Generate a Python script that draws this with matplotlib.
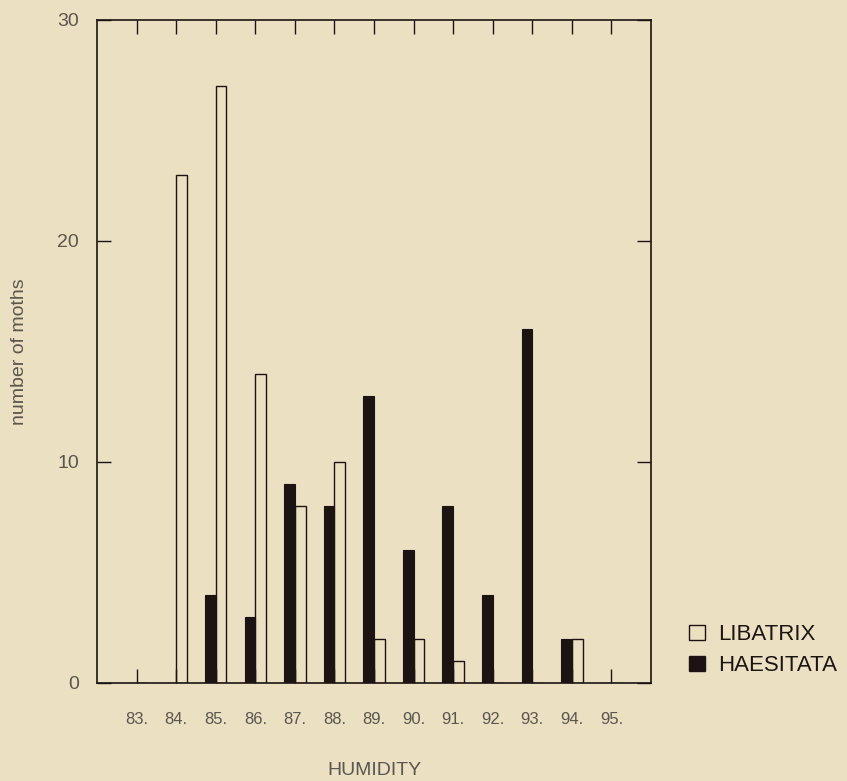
import numpy as np
import matplotlib.pyplot as plt
from matplotlib.patches import Patch

# humidity classes and moth counts
humidity = [83, 84, 85, 86, 87, 88, 89, 90, 91, 92, 93, 94, 95]
humidity_labels = ['83.', '84.', '85.', '86.', '87.', '88.', '89.',
                   '90.', '91.', '92.', '93.', '94.', '95.']
libatrix = [0, 23, 27, 14, 8, 10, 2, 2, 1, 0, 0, 2, 0]
haesitata = [0, 0, 4, 3, 9, 8, 13, 6, 8, 4, 16, 2, 0]

bg = '#ece0c2'
ink = '#1c1412'
grey = '#5a5650'

plt.rcParams['font.family'] = ['Liberation Sans', 'DejaVu Sans']

fig = plt.figure(figsize=(8.47, 7.81), dpi=100, facecolor=bg)
ax = fig.add_axes([0.1145, 0.1255, 0.6541, 0.849])
ax.set_facecolor(bg)

x = np.array(humidity, dtype=float)
w = 0.27
ax.bar(x - w / 2, haesitata, width=w, color=ink, edgecolor=ink, linewidth=0.8)
ax.bar(x + w / 2, libatrix, width=w, facecolor='none', edgecolor=ink, linewidth=1.0)

ax.set_xlim(82, 96)
ax.set_ylim(0, 30)

ax.set_xticks(x)
ax.set_xticklabels(humidity_labels)
ax.set_yticks([0, 10, 20, 30])
ax.set_yticklabels(['0', '10', '20', '30'])
ax.tick_params(axis='x', direction='in', length=10, width=1.0, top=True,
               bottom=True, pad=21, labelsize=12, labelcolor=grey, color=ink)
ax.tick_params(axis='y', direction='in', length=10, width=1.0, left=True,
               right=True, pad=13, labelsize=14, labelcolor=grey, color=ink)
for s in ax.spines.values():
    s.set_linewidth(1.2)
    s.set_color(ink)

ax.set_xlabel('HUMIDITY', fontsize=14, color=grey, labelpad=25)
ax.set_ylabel('number of moths', fontsize=14, color=grey, labelpad=21)

handles = [Patch(facecolor='none', edgecolor=ink, linewidth=1.0, label='LIBATRIX'),
           Patch(facecolor=ink, edgecolor=ink, label='HAESITATA')]
fig.legend(handles=handles, loc='upper left', bbox_to_anchor=(0.79, 0.226),
           frameon=False, fontsize=16, handlelength=0.7, handleheight=0.7,
           handletextpad=0.6, labelspacing=0.45, labelcolor=ink)

fig.savefig('out.png', dpi=100, facecolor=bg)
